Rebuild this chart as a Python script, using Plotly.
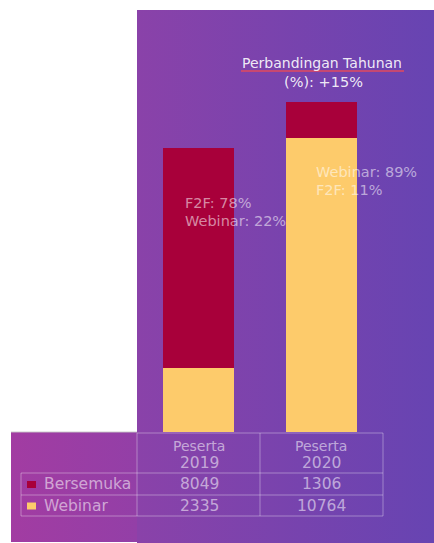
import plotly.graph_objects as go

# ---------------- data ----------------
years = ["2019", "2020"]
header_top = ["Peserta", "Peserta"]
series_names = ["Bersemuka", "Webinar"]
bersemuka = [8049, 1306]
webinar = [2335, 10764]
share_line1 = ["F2F: 78%", "Webinar: 89%"]
share_line2 = ["Webinar: 22%", "F2F: 11%"]
title_line1 = "Perbandingan Tahunan"
title_line2 = "(%): +15%"

# ---------------- style ----------------
W, H = 434, 543
FONT = "DejaVu Sans"
C_F2F = "#a8003a"
C_WEB = "#fdcb6b"
TXT = "rgba(255,255,255,0.9)"
TXT_SOFT = "rgba(255,255,255,0.55)"
GRID = "rgba(255,255,255,0.35)"


def px(x):
    return x / W


def py(y):
    return 1 - y / H


fig = go.Figure()

# background panels on a pixel-space subplot (xaxis / yaxis)
fig.add_trace(go.Scatter(x=[137, 434, 434, 137, 137], y=[10, 10, 543, 543, 10],
                         mode="lines", line_width=0, fill="toself", hoverinfo="skip",
                         fillgradient=dict(type="horizontal",
                                           colorscale=[[0, "#8a42a9"], [1, "#6744b2"]]),
                         xaxis="x", yaxis="y", showlegend=False))
fig.add_trace(go.Scatter(x=[11, 137, 137, 11, 11], y=[432, 432, 542, 542, 432],
                         mode="lines", line_width=0, fill="toself", hoverinfo="skip",
                         fillgradient=dict(type="horizontal",
                                           colorscale=[[0, "#a23ca2"], [1, "#933fa7"]]),
                         xaxis="x", yaxis="y", showlegend=False))

# stacked bars on their own subplot
fig.add_trace(go.Bar(x=years, y=webinar, name=series_names[1], marker_color=C_WEB,
                     marker_line_width=0, width=0.585, xaxis="x2", yaxis="y2"))
fig.add_trace(go.Bar(x=years, y=bersemuka, name=series_names[0], marker_color=C_F2F,
                     marker_line_width=0, width=0.585, xaxis="x2", yaxis="y2"))

shapes = []
# grey edge at top of magenta panel
shapes.append(dict(type="line", xref="paper", yref="paper", x0=px(11), x1=px(137),
                   y0=py(432), y1=py(432), line=dict(color="rgba(200,200,200,0.9)", width=1)))
# table grid
for xv in [137, 260, 383]:
    shapes.append(dict(type="line", xref="paper", yref="paper", x0=px(xv), x1=px(xv),
                       y0=py(433), y1=py(516), line=dict(color=GRID, width=1)))
shapes.append(dict(type="line", xref="paper", yref="paper", x0=px(21), x1=px(21),
                   y0=py(473), y1=py(516), line=dict(color=GRID, width=1)))
shapes.append(dict(type="line", xref="paper", yref="paper", x0=px(137), x1=px(383),
                   y0=py(433), y1=py(433), line=dict(color=GRID, width=1)))
for yv in [473, 495, 516]:
    shapes.append(dict(type="line", xref="paper", yref="paper", x0=px(21), x1=px(383),
                       y0=py(yv), y1=py(yv), line=dict(color=GRID, width=1)))
# legend swatches
for yc, col in [(484.5, C_F2F), (506, C_WEB)]:
    shapes.append(dict(type="rect", xref="paper", yref="paper", x0=px(27), x1=px(36),
                       y0=py(yc + 3.5), y1=py(yc - 3.5), line_width=0, fillcolor=col))
# red underline under title
shapes.append(dict(type="line", xref="paper", yref="paper", x0=px(241), x1=px(404),
                   y0=py(71), y1=py(71), line=dict(color="#e24a5e", width=1.5)))


def text(t, x, y, size, color, xanchor="center"):
    return dict(text=t, x=px(x), y=py(y), xref="paper", yref="paper",
                xanchor=xanchor, yanchor="middle", showarrow=False,
                font=dict(family=FONT, size=size, color=color))


ann = []
ann.append(text(title_line1, 322, 63, 14, TXT))
ann.append(text(title_line2, 323, 82, 14.5, TXT))
label_x = [183, 314]
label_y = [(203, 221), (172, 190)]
for i in range(2):
    ann.append(text(share_line1[i], label_x[i], label_y[i][0], 14.5, TXT_SOFT, "left"))
    ann.append(text(share_line2[i], label_x[i], label_y[i][1], 14.5, TXT_SOFT, "left"))
col_c = [199, 321]
for i in range(2):
    ann.append(text(header_top[i], col_c[i], 446, 14, TXT_SOFT))
    ann.append(text(years[i], col_c[i], 463, 15.5, TXT_SOFT))
    ann.append(text(str(bersemuka[i]), col_c[i], 484, 15.5, TXT_SOFT))
    ann.append(text(str(webinar[i]), col_c[i], 506, 15.5, TXT_SOFT))
for name, yc in [(series_names[0], 484), (series_names[1], 506)]:
    ann.append(text(name, 42, yc, 15.5, TXT_SOFT, "left"))

fig.update_layout(
    width=W, height=H,
    margin=dict(l=0, r=0, t=0, b=0),
    paper_bgcolor="white",
    plot_bgcolor="rgba(0,0,0,0)",
    barmode="stack",
    showlegend=False,
    shapes=shapes,
    annotations=ann,
    xaxis=dict(domain=[0, 1], range=[0, W], visible=False, fixedrange=True),
    yaxis=dict(domain=[0, 1], range=[H, 0], visible=False, fixedrange=True),
    xaxis2=dict(domain=[px(137), px(383)], range=[-0.5, 1.5], type="category",
                visible=False, fixedrange=True, anchor="y2"),
    yaxis2=dict(domain=[py(432), py(10)], range=[0, 15435], visible=False,
                fixedrange=True, anchor="x2"),
)

fig.write_html("out.html", config={"displayModeBar": False},
               post_script="document.body.style.margin='0';document.body.style.overflow='hidden';")
